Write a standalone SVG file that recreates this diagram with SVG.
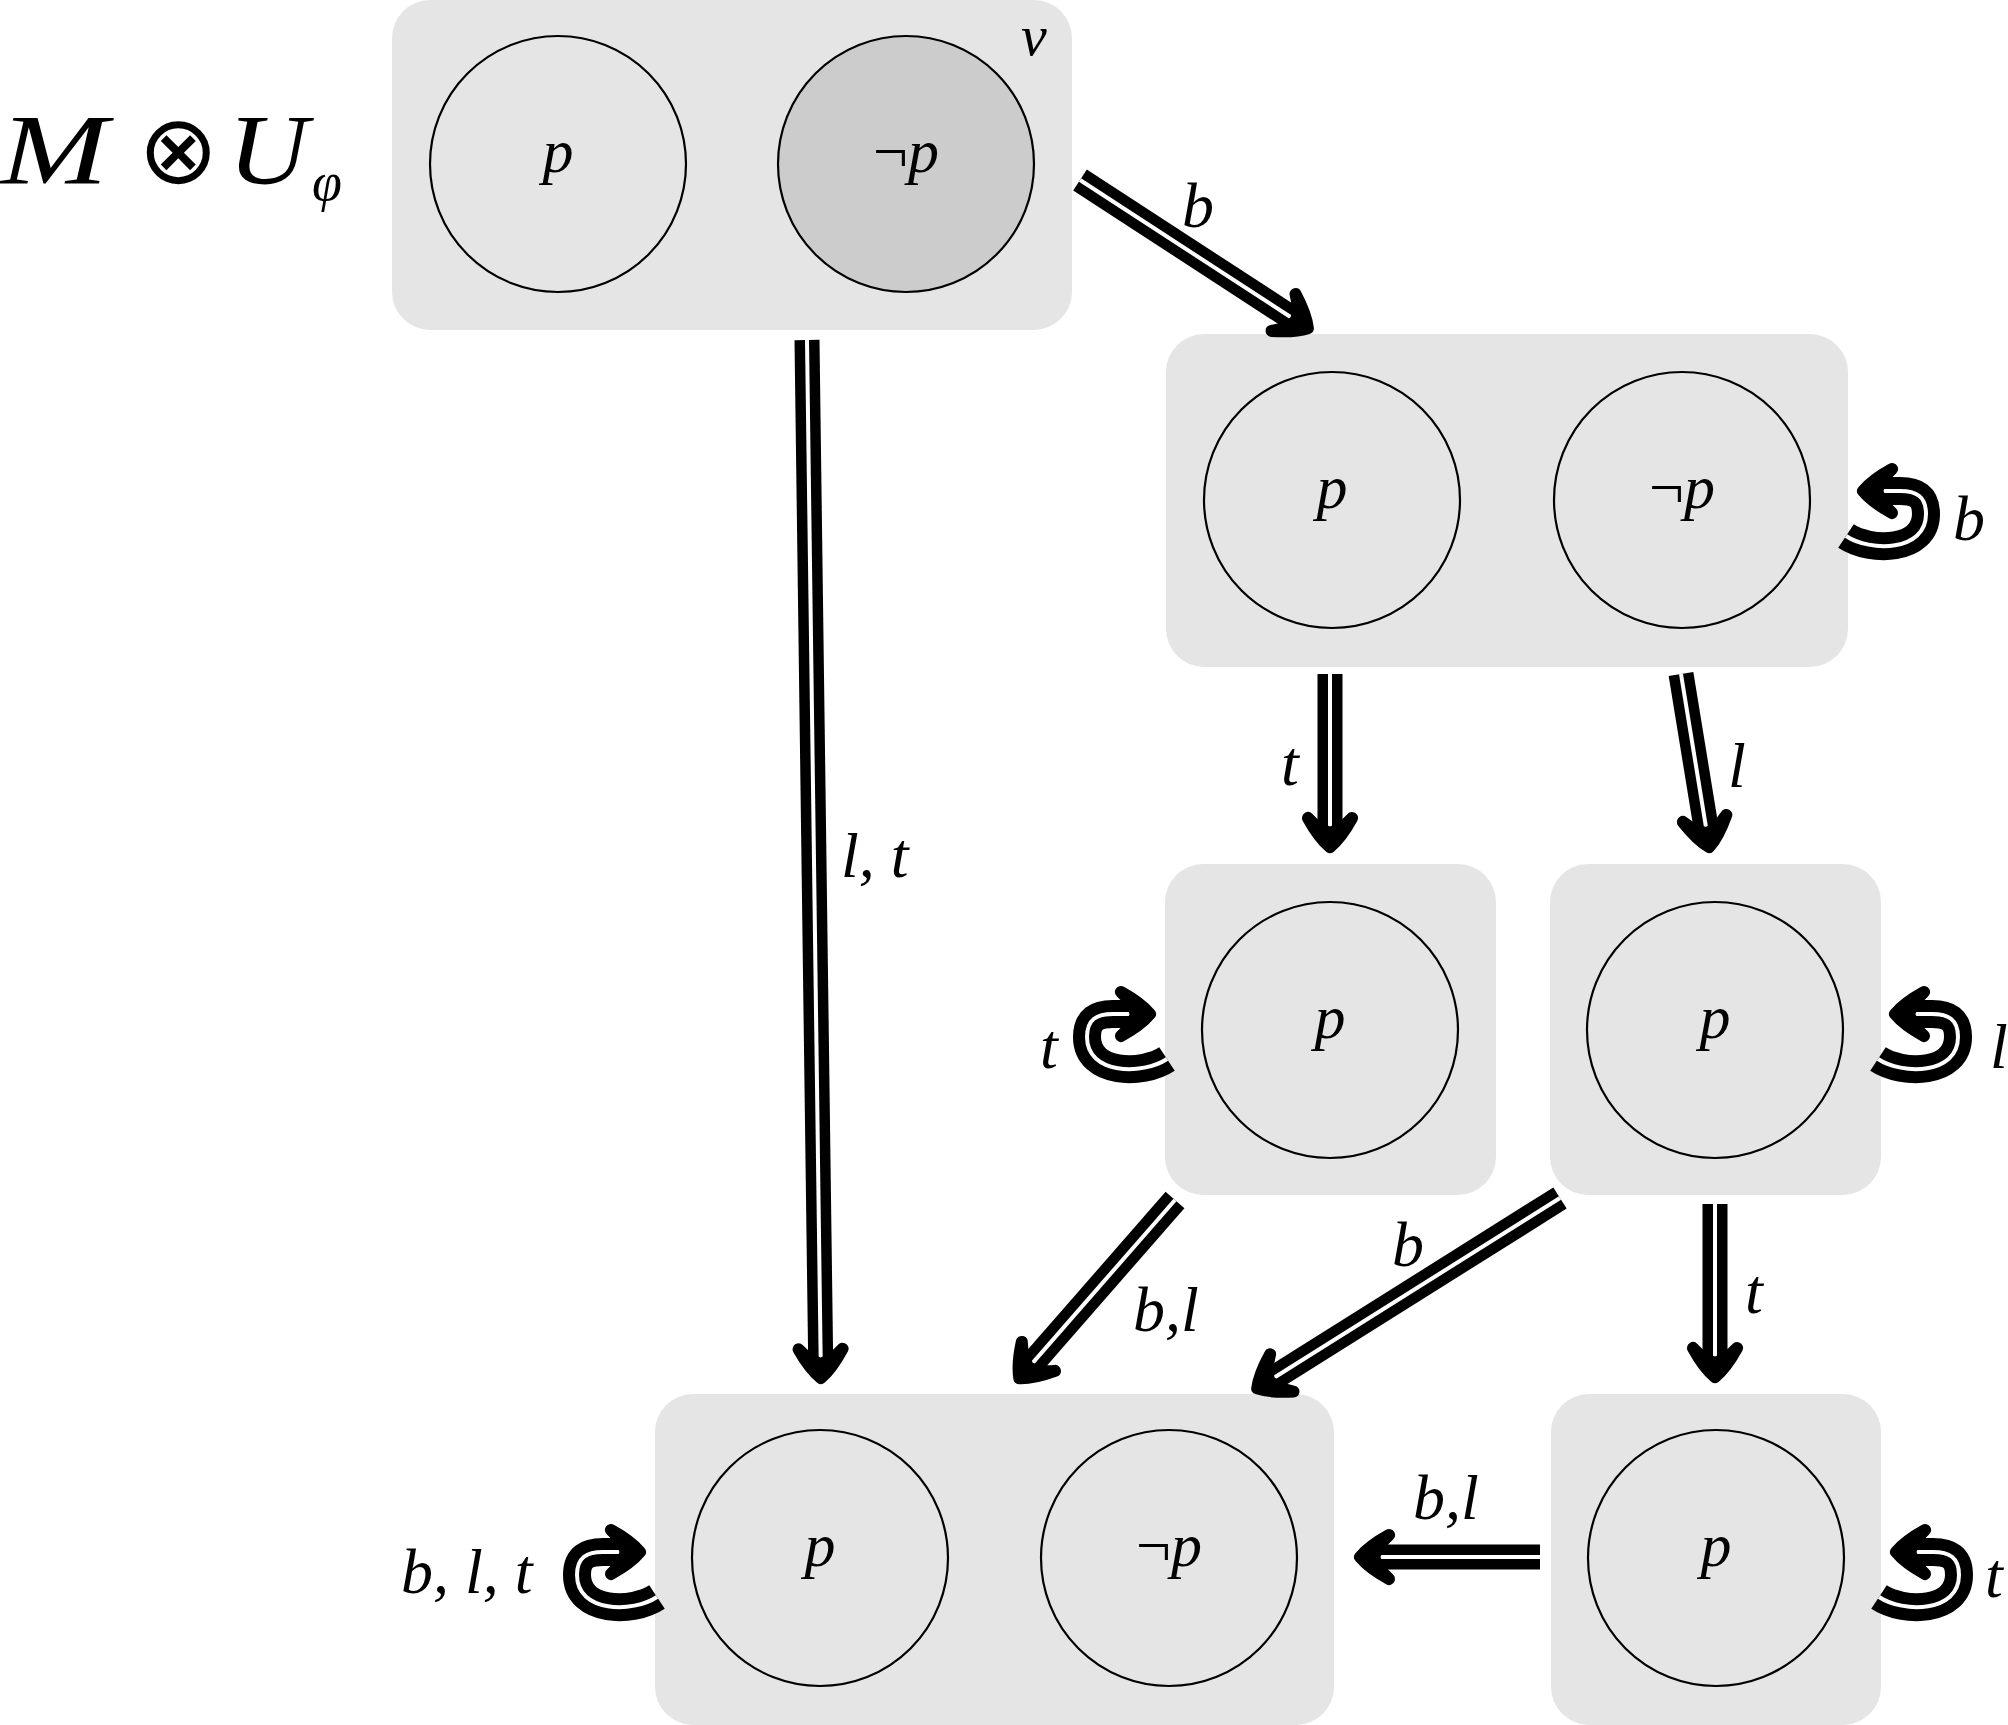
<svg xmlns="http://www.w3.org/2000/svg" width="2008" height="1725" viewBox="0 0 2008 1725">
<style>
.box{fill:#e5e5e5}
.st{fill:#e5e5e5;stroke:#000;stroke-width:2.2}
.neg{fill:#cccccc}
.lbl{font-family:"Liberation Serif","DejaVu Serif",serif;font-style:italic;font-size:62px;fill:#000;text-anchor:middle}
.elbl{font-family:"Liberation Serif","DejaVu Serif",serif;font-style:italic;font-size:64px;fill:#000}
.title{font-family:"Liberation Serif","DejaVu Serif",serif;font-style:italic;font-size:100px;fill:#000}
.sh{fill:none;stroke:#000;stroke-width:25;stroke-linecap:butt}
.in{fill:none;stroke:#fff;stroke-width:4;stroke-linecap:butt;marker-end:url(#ah)}
.lsh{fill:none;stroke:#000;stroke-width:28;stroke-linecap:butt}
.lin{fill:none;stroke:#fff;stroke-width:4;stroke-linecap:butt;marker-end:url(#ah)}
.up{font-style:normal}
</style>
<defs>
<marker id="ah" viewBox="0 0 60 60" refX="28" refY="30" markerWidth="60" markerHeight="60" markerUnits="userSpaceOnUse" orient="auto" overflow="visible">
<path d="M16,8 Q36,19 45,30 Q36,41 16,52 Q27,42 31,30 Q27,18 16,8 Z" fill="#000" stroke="#000" stroke-width="12" stroke-linejoin="round"/>
</marker>
<g id="loopR">
<path class="lsh" d="M-2,24 C22,40 78,40 78,2 C78,-16 68,-21 52,-21 L24,-21"/>
<path class="lin" d="M-2,24 C22,40 78,40 78,2 C78,-16 68,-21 52,-21 L32,-21"/>
</g>
</defs>

<g id="title">
<text class="title" x="0" y="183" textLength="108" lengthAdjust="spacingAndGlyphs">M</text>
<text class="title" x="138" y="183"><tspan class="up" style="font-family:'DejaVu Sans',sans-serif;font-size:96px">⊗</tspan></text>
<text class="title" x="228" y="183" textLength="80" lengthAdjust="spacingAndGlyphs">U</text>
<text class="title" x="312" y="200" style="font-size:54px">φ</text>
</g>

<g id="node-v">
<rect class="box" x="392" y="0" width="680" height="330" rx="38"/>
<circle class="st" cx="558" cy="164" r="128"/>
<circle class="st neg" cx="906" cy="164" r="128"/>
<text class="lbl" x="558" y="172">p</text>
<text class="lbl" x="906" y="172"><tspan class="up">¬</tspan>p</text>
<text class="elbl" x="1021" y="55" style="font-size:58px">v</text>
</g>

<g id="node-b">
<rect class="box" x="1166" y="334" width="682" height="333" rx="38"/>
<circle class="st" cx="1332" cy="500" r="128"/>
<circle class="st" cx="1682" cy="500" r="128"/>
<text class="lbl" x="1332" y="508">p</text>
<text class="lbl" x="1682" y="508"><tspan class="up">¬</tspan>p</text>
</g>

<g id="node-t">
<rect class="box" x="1165" y="864" width="331" height="331" rx="38"/>
<circle class="st" cx="1330" cy="1030" r="128"/>
<text class="lbl" x="1330" y="1038">p</text>
</g>

<g id="node-l">
<rect class="box" x="1550" y="864" width="331" height="331" rx="38"/>
<circle class="st" cx="1715" cy="1030" r="128"/>
<text class="lbl" x="1715" y="1038">p</text>
</g>

<g id="node-sink">
<rect class="box" x="655" y="1394" width="679" height="331" rx="38"/>
<circle class="st" cx="820" cy="1558" r="128"/>
<circle class="st" cx="1169" cy="1558" r="128"/>
<text class="lbl" x="820" y="1566">p</text>
<text class="lbl" x="1169" y="1566"><tspan class="up">¬</tspan>p</text>
</g>

<g id="node-tt">
<rect class="box" x="1551" y="1394" width="330" height="331" rx="38"/>
<circle class="st" cx="1716" cy="1558" r="128"/>
<text class="lbl" x="1716" y="1566">p</text>
</g>

<g id="connectors">
<g id="e-v-sink">
<path class="sh" d="M807,340 L820.8,1369"/>
<path class="in" d="M807,340 L820.7,1361"/>
<text class="elbl" x="841" y="877">l, t</text>
</g>
<g id="e-v-b">
<path class="sh" d="M1080,180 L1300.3,323.4"/>
<path class="in" d="M1080,180 L1293.6,319"/>
<text class="elbl" x="1182" y="227">b</text>
</g>
<g id="e-b-t">
<path class="sh" d="M1330,674 L1330,838"/>
<path class="in" d="M1330,674 L1330,830"/>
<text class="elbl" x="1281" y="785">t</text>
</g>
<g id="e-b-l">
<path class="sh" d="M1681,674 L1707.8,838.2"/>
<path class="in" d="M1681,674 L1706.5,830.3"/>
<text class="elbl" x="1728" y="787">l</text>
</g>
<g id="e-t-sink">
<path class="sh" d="M1175,1200 L1025.2,1371.5"/>
<path class="in" d="M1175,1200 L1030.5,1365.4"/>
<text class="elbl" x="1133" y="1331">b,l</text>
</g>
<g id="e-l-sink">
<path class="sh" d="M1560,1198 L1264.9,1383.5"/>
<path class="in" d="M1560,1198 L1271.6,1379.3"/>
<text class="elbl" x="1392" y="1266">b</text>
</g>
<g id="e-l-tt">
<path class="sh" d="M1715,1204 L1715,1368"/>
<path class="in" d="M1715,1204 L1715,1360"/>
<text class="elbl" x="1745" y="1313">t</text>
</g>
<g id="e-tt-sink">
<path class="sh" d="M1540,1557 L1369,1557"/>
<path class="in" d="M1540,1557 L1377,1557"/>
<text class="elbl" x="1413" y="1519">b,l</text>
</g>
<g id="loop-b">
<use href="#loopR" transform="translate(1848,512)"/>
<text class="elbl" x="1953" y="540">b</text>
</g>
<g id="loop-t">
<use href="#loopR" transform="translate(1165,1035) scale(-1,1)"/>
<text class="elbl" x="1040" y="1068">t</text>
</g>
<g id="loop-l">
<use href="#loopR" transform="translate(1880,1035)"/>
<text class="elbl" x="1990" y="1068">l</text>
</g>
<g id="loop-sink">
<use href="#loopR" transform="translate(655,1573) scale(-1,1)"/>
<text class="elbl" x="401" y="1593">b, l, t</text>
</g>
<g id="loop-tt">
<use href="#loopR" transform="translate(1881,1573)"/>
<text class="elbl" x="1985" y="1597">t</text>
</g>
</g>
</svg>
